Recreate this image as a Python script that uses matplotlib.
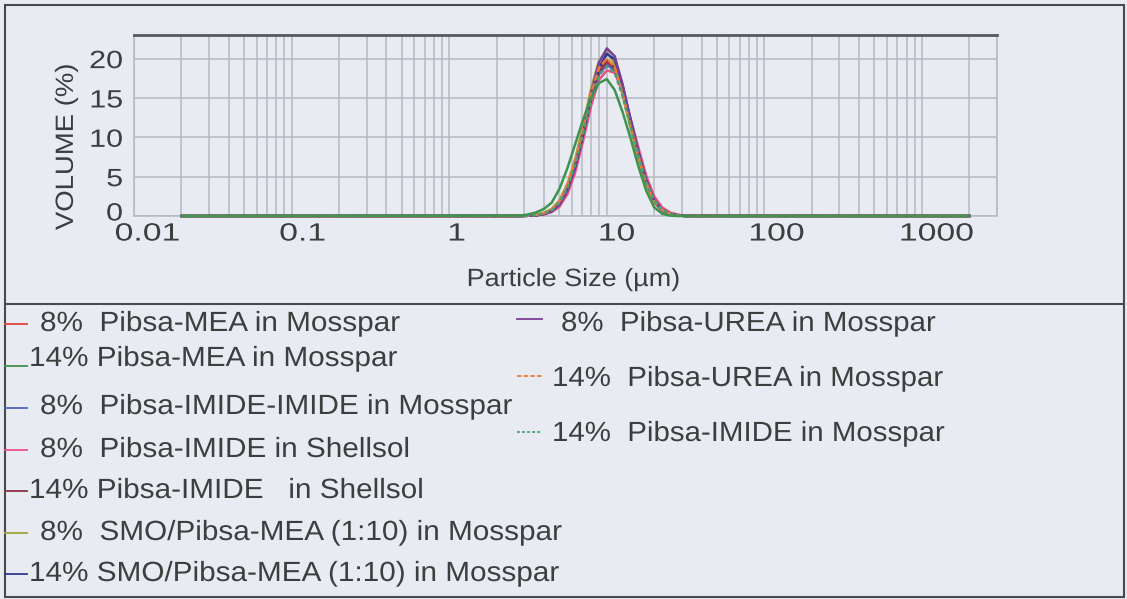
import matplotlib
matplotlib.use("Agg")
import matplotlib.pyplot as plt
from matplotlib.lines import Line2D
from matplotlib.patches import Rectangle
from matplotlib.patheffects import AbstractPathEffect
from matplotlib.transforms import Affine2D
from matplotlib.ticker import FixedLocator, NullFormatter, LogLocator

plt.rcParams['font.family'] = ['Liberation Sans', 'DejaVu Sans']

# ---- data -------------------------------------------------------------
sizes_um = [0.02, 2.825, 3.170, 3.557, 3.991, 4.477, 5.024, 5.637, 6.325,
            7.096, 7.962, 8.934, 10.024, 11.247, 12.619, 14.159, 15.887,
            17.825, 20.000, 22.440, 25.179, 28.251, 31.698, 2000.0]

mea_8 = [0, 0, 0.05, 0.12, 0.35, 0.8, 1.9, 3.9, 6.9, 10.9, 15.1, 18.4, 19.8,
         18.9, 15.7, 11.6, 7.8, 4.3, 2.0, 0.8, 0.3, 0.1, 0, 0]
mea_14 = [0, 0.05, 0.2, 0.45, 0.9, 1.7, 3.5, 6.1, 9.2, 12.3, 15.0, 16.9, 17.4,
          16.0, 13.2, 9.9, 6.3, 3.2, 1.1, 0.3, 0.05, 0, 0, 0]
imide_imide_8 = [0, 0, 0.03, 0.1, 0.25, 0.6, 1.5, 3.3, 6.3, 10.4, 14.8, 18.0,
                 19.2, 18.5, 15.6, 11.7, 7.9, 4.5, 2.1, 0.8, 0.3, 0.08, 0, 0]
imide_shell_8 = [0, 0, 0.02, 0.08, 0.2, 0.5, 1.2, 2.8, 5.6, 9.6, 14.0, 17.3,
                 18.5, 18.2, 15.9, 12.4, 8.7, 5.1, 2.5, 1.1, 0.45, 0.18, 0.05, 0]
imide_shell_14 = [0, 0, 0.03, 0.1, 0.3, 0.7, 1.6, 3.5, 6.5, 10.6, 15.0, 18.4,
                  19.6, 18.8, 15.6, 11.7, 7.9, 4.4, 2.0, 0.8, 0.3, 0.08, 0, 0]
smo_8 = [0, 0, 0.05, 0.15, 0.4, 0.9, 2.0, 4.1, 7.3, 11.6, 16.2, 19.7, 20.9,
         19.3, 15.5, 11.2, 7.2, 3.9, 1.7, 0.6, 0.2, 0.05, 0, 0]
smo_14 = [0, 0, 0.03, 0.1, 0.25, 0.6, 1.5, 3.3, 6.3, 10.4, 15.0, 18.8, 20.6,
          19.9, 16.6, 12.3, 8.1, 4.5, 2.0, 0.8, 0.3, 0.08, 0, 0]
urea_8 = [0, 0, 0.03, 0.1, 0.25, 0.6, 1.5, 3.4, 6.5, 10.8, 15.6, 19.5, 21.3,
          20.3, 16.7, 12.2, 8.0, 4.3, 1.9, 0.7, 0.25, 0.06, 0, 0]
urea_14 = [0, 0, 0.05, 0.15, 0.35, 0.8, 1.9, 4.0, 7.1, 11.2, 15.6, 18.8, 20.0,
           18.9, 15.5, 11.4, 7.6, 4.2, 1.9, 0.8, 0.3, 0.08, 0, 0]
imide_moss_14 = [0, 0, 0.04, 0.12, 0.3, 0.7, 1.7, 3.6, 6.6, 10.5, 14.7, 17.9,
                 19.0, 18.2, 15.2, 11.4, 7.7, 4.3, 2.0, 0.8, 0.3, 0.08, 0, 0]

left_labels = ["8%  Pibsa-MEA in Mosspar",
               "14% Pibsa-MEA in Mosspar",
               "8%  Pibsa-IMIDE-IMIDE in Mosspar",
               "8%  Pibsa-IMIDE in Shellsol",
               "14% Pibsa-IMIDE   in Shellsol",
               "8%  SMO/Pibsa-MEA (1:10) in Mosspar",
               "14% SMO/Pibsa-MEA (1:10) in Mosspar"]
right_labels = ["8%  Pibsa-UREA in Mosspar",
                "14%  Pibsa-UREA in Mosspar",
                "14%  Pibsa-IMIDE in Mosspar"]

x_ticks = [0.01, 0.1, 1, 10, 100, 1000]
x_tick_labels = ["0.01", "0.1", "1", "10", "100", "1000"]
y_ticks = [0, 5, 10, 15, 20]
y_tick_labels = ["0", "5", "10", "15", "20"]

# ---- styling ----------------------------------------------------------
W, H = 1127, 599
BG = "#e8ebf2"
GRID = "#b6b9c1"
TXT = "#3e3e3e"

left_series = [mea_8, mea_14, imide_imide_8, imide_shell_8, imide_shell_14,
               smo_8, smo_14]
left_colors = ["#e5423f", "#3f9350", "#5062c8", "#ec4f8a", "#8e3045",
               "#a3a63c", "#2f3a8f"]
right_series = [urea_8, urea_14, imide_moss_14]
right_colors = ["#7b3f98", "#f07a3a", "#4aa070"]
right_styles = ["-", (0, (2.5, 1.2)), (0, (1.6, 1.2))]


class Widen(AbstractPathEffect):
    """Draw text glyphs widened horizontally about a chosen anchor."""

    def __init__(self, sx=1.0, anchor="left", dx=0.0, dy=0.0):
        super().__init__()
        self._sx = sx
        self._anchor = anchor
        self._dx = dx
        self._dy = dy

    def draw_path(self, renderer, gc, tpath, affine, rgbFace=None):
        if self._anchor == "right":
            x0 = tpath.get_extents().x1
        elif self._anchor == "center":
            e = tpath.get_extents()
            x0 = 0.5 * (e.x0 + e.x1)
        else:
            x0 = 0.0
        pre = Affine2D().translate(-x0, 0).scale(self._sx, 1).translate(x0, 0)
        tr = pre + affine + Affine2D().translate(self._dx, self._dy)
        renderer.draw_path(gc, tpath, tr, rgbFace)


def fx(px):
    return px / W


def fy(py):
    return 1 - py / H


fig = plt.figure(figsize=(W / 100, H / 100), dpi=100, facecolor=BG)
ax = fig.add_axes([fx(134), fy(216), (997 - 134) / W, (216 - 35) / H])
ax.set_facecolor(BG)

# ---- curves -----------------------------------------------------------
for vals, col in zip(left_series, left_colors):
    z = 4 if col == "#3f9350" else 3
    ax.plot(sizes_um, vals, color=col, lw=1.8, zorder=z, clip_on=False,
            solid_joinstyle="round")
for vals, col, ls in zip(right_series, right_colors, right_styles):
    ax.plot(sizes_um, vals, color=col, lw=1.8, ls=ls, zorder=3, clip_on=False,
            solid_joinstyle="round")

ax.set_xscale("log")
ax.set_xlim(0.01, 3000)
ax.set_ylim(0, 23)

ax.xaxis.set_major_locator(FixedLocator(x_ticks))
ax.set_xticklabels(x_tick_labels)
ax.xaxis.set_minor_locator(LogLocator(base=10, subs=range(2, 10), numticks=50))
ax.xaxis.set_minor_formatter(NullFormatter())
ax.set_yticks(y_ticks)
ax.set_yticklabels(y_tick_labels)

ax.grid(True, which="both", axis="x", color=GRID, lw=1.1)
ax.grid(True, which="major", axis="y", color=GRID, lw=1.1)
ax.set_axisbelow(True)

ax.tick_params(which="both", length=0)
ax.tick_params(axis="x", pad=4, labelsize=18, labelcolor=TXT)
ax.tick_params(axis="y", pad=8, labelsize=18, labelcolor=TXT)

for t in ax.xaxis.get_major_ticks():
    t.label1.set_path_effects([Widen(1.35, "left", 5)])
for i, t in enumerate(ax.yaxis.get_major_ticks()):
    t.label1.set_path_effects([Widen(1.22, "right", 0, 5 if i == 0 else 0)])

for side in ("left", "right", "bottom"):
    ax.spines[side].set_color(GRID)
    ax.spines[side].set_linewidth(1.1)
ax.spines["top"].set_color("#55585e")
ax.spines["top"].set_linewidth(2.0)

ax.set_xlabel("Particle Size (µm)", fontsize=18, color=TXT)
ax.xaxis.set_label_coords(0.5, -0.282)
ax.xaxis.label.set_path_effects([Widen(1.08, "left")])
ax.set_ylabel("VOLUME (%)", fontsize=18, color=TXT)
ax.yaxis.set_label_coords(-0.065, 0.34)
ax.yaxis.label.set_path_effects([Widen(1.1, "left")])

# ---- outer frame and divider -----------------------------------------
fig.add_artist(Rectangle((fx(5), fy(597)), (1124 - 5) / W, (597 - 5) / H,
                         transform=fig.transFigure, fill=False,
                         ec="#4a4a4a", lw=1.5))
fig.add_artist(Line2D([fx(5), fx(1124)], [fy(304), fy(304)],
                      transform=fig.transFigure, color="#4a4a4a", lw=1.5))

# ---- legend -----------------------------------------------------------
left_handle_y = [324, 366, 408, 450, 491, 533, 574]
left_base_y = [331, 366, 414, 457, 498, 540, 581]
for lab, col, hy, by in zip(left_labels, left_colors, left_handle_y, left_base_y):
    fig.add_artist(Line2D([fx(5), fx(27)], [fy(hy), fy(hy)],
                          transform=fig.transFigure, color=col, lw=1.3))
    x0 = 29 if lab.startswith("14") else 40
    fig.text(fx(x0), fy(by), lab, fontsize=20, color=TXT, ha="left",
             va="baseline", path_effects=[Widen(1.07, "left")])

right_handle_y = [319, 376, 432]
right_base_y = [331, 386, 441]
for lab, col, ls, hy, by in zip(right_labels, right_colors, right_styles,
                                right_handle_y, right_base_y):
    fig.add_artist(Line2D([fx(517), fx(542)], [fy(hy), fy(hy)],
                          transform=fig.transFigure, color=col, lw=1.3, ls=ls))
    x0 = 552 if lab.startswith("14") else 561
    fig.text(fx(x0), fy(by), lab, fontsize=20, color=TXT, ha="left",
             va="baseline", path_effects=[Widen(1.06, "left")])

fig.savefig("out.png", dpi=100, facecolor=BG)
